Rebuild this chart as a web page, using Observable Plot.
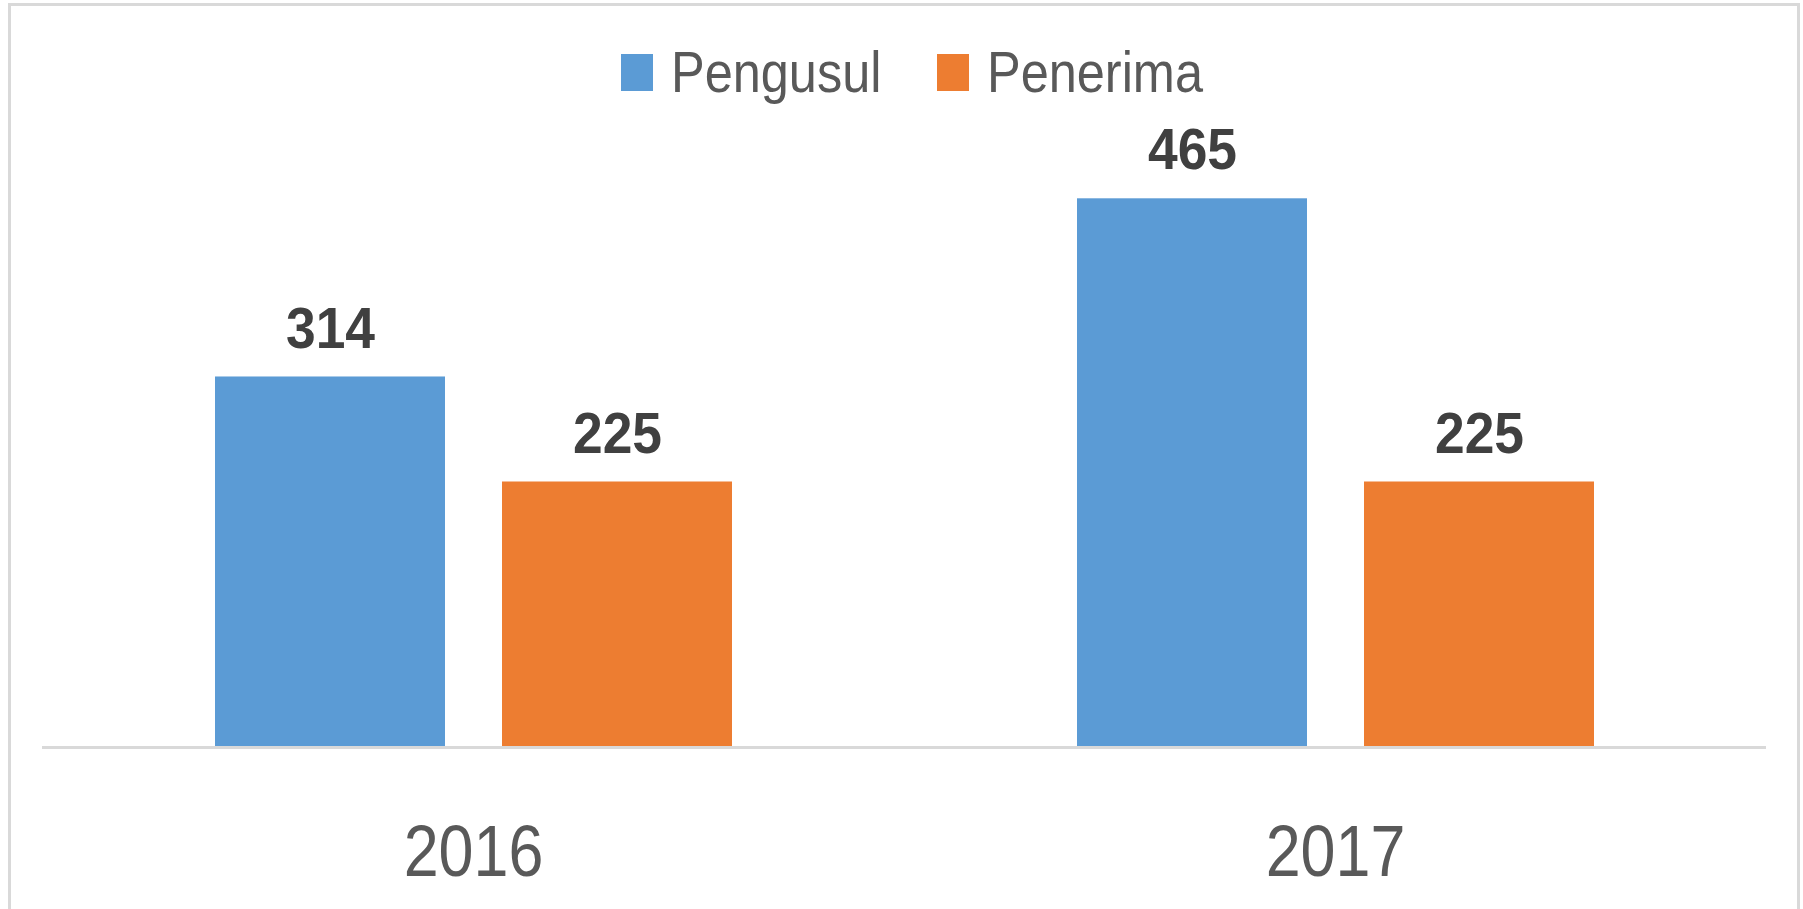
<!DOCTYPE html>
<html>
<head>
<meta charset="utf-8">
<script src="https://cdn.jsdelivr.net/npm/d3@7"></script>
<script src="https://cdn.jsdelivr.net/npm/@observablehq/plot@0.6"></script>
<style>
  html, body { margin: 0; padding: 0; background: #fff; }
  #wrap { position: relative; width: 1803px; height: 909px; overflow: hidden; background: #fff;
          font-family: "Liberation Sans", Arial, sans-serif; }
  #border { position: absolute; left: 8px; top: 3px; width: 1786px; height: 1000px;
            border: 3px solid #d9d9d9; pointer-events: none; }
  #legend { position: relative; height: 110px; }
  .sw { position: absolute; top: 54px; width: 32px; height: 37px; }
  .lab { position: absolute; top: 43px; font-size: 58px; color: #595959; line-height: 58px;
         white-space: nowrap; transform: scaleX(0.87); transform-origin: 0 50%; }
</style>
</head>
<body>
<div id="wrap">
  <div id="legend"></div>
  <div id="chart"></div>
  <div id="border"></div>
</div>
<script>
const years = ["2016", "2017"];
const series = ["Pengusul", "Penerima"];
const colors = ["#5B9BD5", "#ED7D31"];
const pengusul = [314, 465];
const penerima = [225, 225];

const data = [];
years.forEach((yr, i) => {
  data.push({year: yr, series: "Pengusul", value: pengusul[i]});
  data.push({year: yr, series: "Penerima", value: penerima[i]});
});

// legend
const legend = document.getElementById("legend");
const swLeft = [621, 937];
series.forEach((s, i) => {
  const sw = document.createElement("div");
  sw.className = "sw";
  sw.style.left = swLeft[i] + "px";
  sw.style.background = colors[i];
  legend.appendChild(sw);
  const lab = document.createElement("span");
  lab.className = "lab";
  lab.style.left = (swLeft[i] + 50) + "px";
  lab.textContent = s;
  legend.appendChild(lab);
});

const chart = Plot.plot({
  width: 1803,
  height: 799,
  marginTop: 47,
  marginBottom: 162,
  marginLeft: 41,
  marginRight: 37,
  style: {fontFamily: '"Liberation Sans", Arial, sans-serif', background: "transparent"},
  fx: {domain: years, padding: 0, label: null},
  x: {domain: series, paddingInner: 0.2, paddingOuter: 0.6, axis: null},
  y: {domain: [0, 500], axis: null},
  color: {domain: series, range: colors},
  marks: [
    Plot.barY(data, {fx: "year", x: "series", y: "value", fill: "series"}),
    Plot.ruleY([0], {stroke: "#d9d9d9", strokeWidth: 3}),
    Plot.text(data, {fx: "year", x: "series", y: "value", text: d => String(d.value),
      dy: -48, fontSize: 58, fontWeight: "bold", fill: "#404040", lineAnchor: "middle"}),
    Plot.axisFx({anchor: "bottom", tickSize: 0, tickPadding: 77, fontSize: 73, fill: "#595959", label: null})
  ]
});
document.getElementById("chart").appendChild(chart);

// condense glyphs horizontally (reference uses a narrow, tall face)
chart.querySelectorAll('g[aria-label="text"] text').forEach(t => {
  const w = t.getComputedTextLength();
  t.setAttribute("textLength", (w * 0.92).toFixed(1));
  t.setAttribute("lengthAdjust", "spacingAndGlyphs");
});
chart.querySelectorAll('g[aria-label^="fx-axis"] text').forEach(t => {
  const w = t.getComputedTextLength();
  t.setAttribute("textLength", (w * 0.86).toFixed(1));
  t.setAttribute("lengthAdjust", "spacingAndGlyphs");
});
</script>
</body>
</html>
